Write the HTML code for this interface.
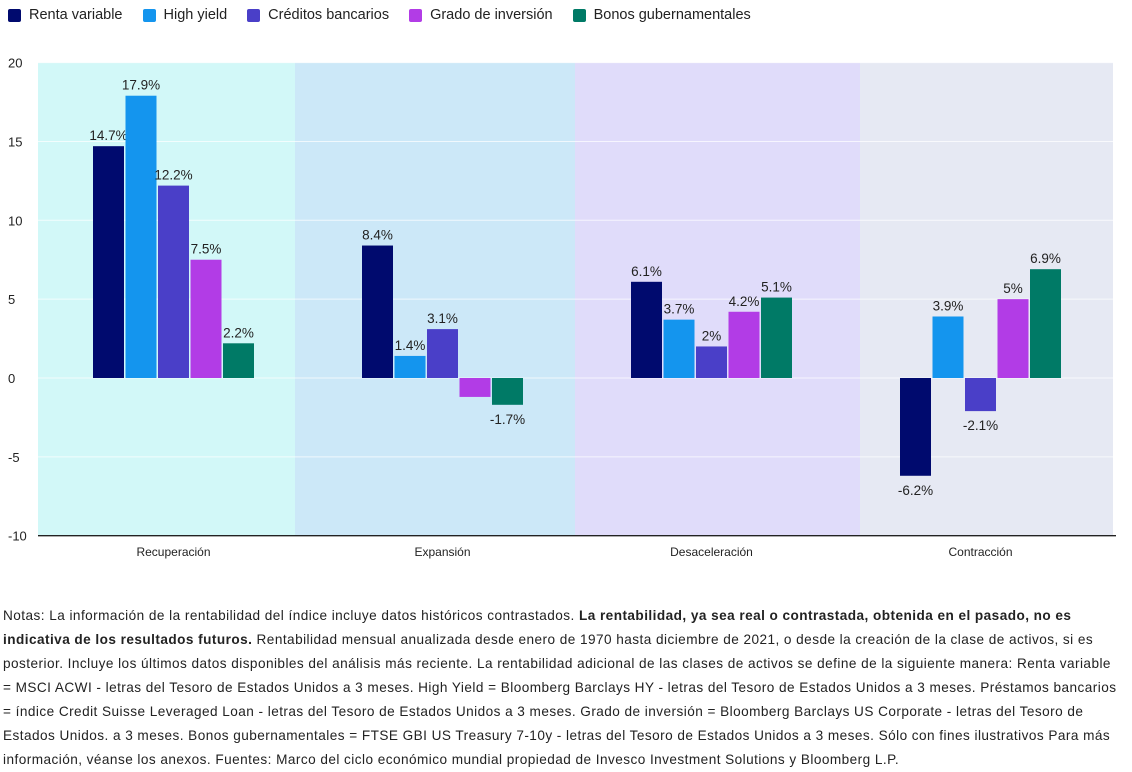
<!DOCTYPE html>
<html><head><meta charset="utf-8">
<style>
body{margin:0;background:#fff;width:1132px;height:765px;overflow:hidden;font-family:"Liberation Sans",sans-serif;color:#222}
#legend{position:absolute;left:8px;top:7px;display:flex;font-size:14.5px}
.li{display:flex;align-items:center;margin-right:20px}
.sw{width:13px;height:13px;border-radius:2px;margin-right:8px}
#notes{position:absolute;left:3px;top:604px;width:1116px;font-size:13.6px;letter-spacing:0.45px;line-height:24px;color:#222}
</style></head><body>
<div id="legend"></div>
<svg id="chart" width="1132" height="600" style="position:absolute;left:0;top:0"></svg>
<div id="notes">Notas: La información de la rentabilidad del índice incluye datos históricos contrastados. <b>La rentabilidad, ya sea real o contrastada, obtenida en el pasado, no es indicativa de los resultados futuros.</b> Rentabilidad mensual anualizada desde enero de 1970 hasta diciembre de 2021, o desde la creación de la clase de activos, si es posterior. Incluye los últimos datos disponibles del análisis más reciente. La rentabilidad adicional de las clases de activos se define de la siguiente manera: Renta variable = MSCI ACWI - letras del Tesoro de Estados Unidos a 3 meses. High Yield = Bloomberg Barclays HY - letras del Tesoro de Estados Unidos a 3 meses. Préstamos bancarios = índice Credit Suisse Leveraged Loan - letras del Tesoro de Estados Unidos a 3 meses. Grado de inversión = Bloomberg Barclays US Corporate - letras del Tesoro de Estados Unidos. a 3 meses. Bonos gubernamentales = FTSE GBI US Treasury 7-10y - letras del Tesoro de Estados Unidos a 3 meses. Sólo con fines ilustrativos Para más información, véanse los anexos. Fuentes: Marco del ciclo económico mundial propiedad de Invesco Investment Solutions y Bloomberg L.P.</div>
<script>
const categories=["Recuperación","Expansión","Desaceleración","Contracción"];
const seriesNames=["Renta variable","High yield","Créditos bancarios","Grado de inversión","Bonos gubernamentales"];
const rentaVariable=[14.7,8.4,6.1,-6.2];
const highYield=[17.9,1.4,3.7,3.9];
const creditosBancarios=[12.2,3.1,2,-2.1];
const gradoInversion=[7.5,-1.2,4.2,5];
const bonosGub=[2.2,-1.7,5.1,6.9];
const labelsShown=[[true,true,true,true],[true,true,true,true],[true,true,true,true],[true,false,true,true],[true,true,true,true]];
const yTicks=[20,15,10,5,0,-5,-10];
const colors=["#000a6e","#1495ee","#4a3fc8","#b23ce6","#007a66"];
const bandColors=["#d2f8f8","#cce8f8","#e0dcfa","#e6e9f3"];
const bandEdges=[38,295,575,860,1113];
const series=[rentaVariable,highYield,creditosBancarios,gradoInversion,bonosGub];
const NS="http://www.w3.org/2000/svg";
const svg=document.getElementById('chart');
const y=v=>378-v*15.77;
const xc=i=>173.5+269*i;
function el(t,a,p){const e=document.createElementNS(NS,t);for(const k in a)e.setAttribute(k,a[k]);(p||svg).appendChild(e);return e;}
bandColors.forEach((c,i)=>{const r=el('rect',{x:bandEdges[i],y:y(20),width:bandEdges[i+1]-bandEdges[i],height:y(-10)-y(20),fill:c});

});
yTicks.forEach(t=>{if(t!==-10){const l=el('line',{x1:38,x2:1113,y1:y(t),y2:y(t),stroke:'#ffffff','stroke-opacity':0.7});

}
const tx=el('text',{x:8,y:y(t)+5,'font-size':13,fill:'#222'});tx.textContent=t;

});
const ax=el('line',{x1:38,x2:1116,y1:y(-10),y2:y(-10),stroke:'#222','stroke-width':1.3});


categories.forEach((c,i)=>{const t=el('text',{x:xc(i),y:556,'text-anchor':'middle','font-size':12,fill:'#222'});t.textContent=c;

});
series.forEach((s,j)=>{s.forEach((v,i)=>{const x=xc(i)+(j-2)*32.5-15.5;const top=Math.min(y(v),y(0));
const r=el('rect',{x:x,y:top,width:31,height:Math.abs(y(v)-y(0)),fill:colors[j]});


if(labelsShown[j][i]){const t=el('text',{x:x+15.5,y:v>=0?y(v)-6:y(v)+19,'text-anchor':'middle','font-size':13.5,fill:'#222'});t.textContent=v+'%';

}});});
const lg=document.getElementById('legend');
seriesNames.forEach((n,j)=>{const d=document.createElement('div');d.className='li';d.innerHTML='<span class="sw" style="background:'+colors[j]+'"></span>'+n;


lg.appendChild(d);});
</script>
</body></html>
